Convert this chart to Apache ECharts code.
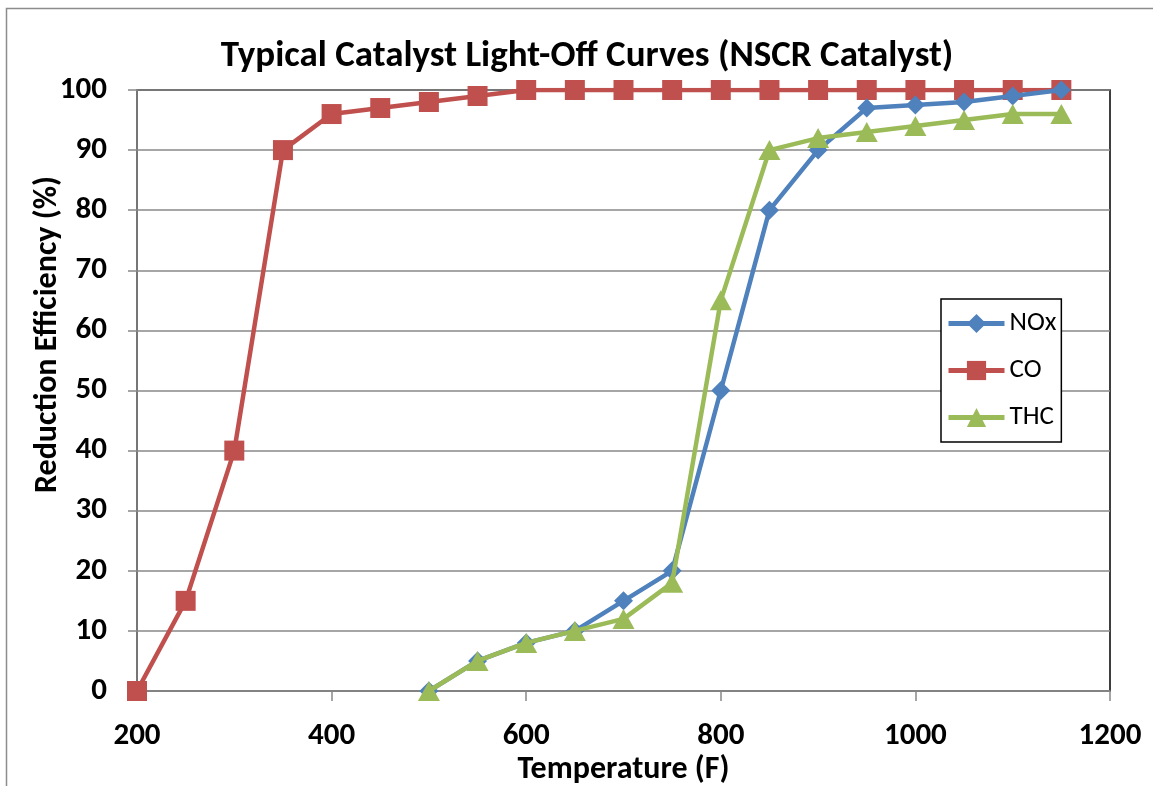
<!DOCTYPE html>
<html><head><meta charset="utf-8">
<script src="https://cdn.jsdelivr.net/npm/echarts@6/dist/echarts.min.js"></script>
<style>html,body{margin:0;padding:0;background:#fff}#c{width:1153px;height:786px}</style>
</head><body><div id="c"></div>
<script>
const temps = [200,250,300,350,400,450,500,550,600,650,700,750,800,850,900,950,1000,1050,1100,1150];
const noxTemps = [500,550,600,650,700,750,800,850,900,950,1000,1050,1100,1150];
const noxVals = [0,5,8,10,15,20,50,80,90,97,97.5,98,99,100];
const coVals = [0,15,40,90,96,97,98,99,100,100,100,100,100,100,100,100,100,100,100,100];
const thcVals = [0,5,8,10,12,18,65,90,92,93,94,95,96,96];
const xTicks = [200,400,600,800,1000,1200];
const FONT = "Carlito, 'Liberation Sans Narrow', 'Open Sans', sans-serif";

const zip = (xs, ys) => xs.map((x,i)=>[x, ys[i]]);
const chart = echarts.init(document.getElementById('c'));
chart.setOption({
  animation:false,
  textStyle:{fontFamily:FONT},
  title:{text:'Typical Catalyst Light-Off Curves (NSCR Catalyst)', left:582, top:33, textAlign:'center',
    textStyle:{fontFamily:FONT, fontSize:37, fontWeight:'bold', color:'#000'}},
  graphic:[{type:'rect', shape:{x:6.5,y:8.5,width:1300,height:900}, style:{fill:null, stroke:'#8c8c8c', lineWidth:1.5}, silent:true}],
  grid:{left:137, right:43, top:90, bottom:95, show:true, borderColor:'#000', borderWidth:1.5,
    containLabel:false, outerBoundsMode:'none'},
  legend:{orient:'vertical', left:941, top:299, padding:[11,5,11,5], itemGap:20,
    borderColor:'#000', borderWidth:1.5, backgroundColor:'#fff',
    itemWidth:56, itemHeight:24,
    lineStyle:{width:5},
    textStyle:{fontFamily:FONT, fontSize:27, lineHeight:24, color:'#000'},
    data:['NOx','CO','THC']},
  xAxis:{type:'value', min:200, max:1200, interval:200,
    name:'Temperature (F)', nameLocation:'middle', nameGap:63, nameMoveOverlap:false,
    nameTextStyle:{fontFamily:FONT, fontSize:32, fontWeight:'bold', color:'#000'},
    axisLine:{lineStyle:{color:'#888', width:1.5}},
    axisTick:{show:true, length:10, lineStyle:{color:'#888', width:1.5}},
    axisLabel:{fontFamily:FONT, fontSize:31, fontWeight:'bold', color:'#000', margin:30, formatter:v=>String(v)},
    splitLine:{show:false}},
  yAxis:{type:'value', min:0, max:100, interval:10,
    name:'Reduction Efficiency (%)', nameLocation:'middle', nameGap:73, nameRotate:90, nameMoveOverlap:false,
    nameTextStyle:{fontFamily:FONT, fontSize:32, fontWeight:'bold', color:'#000', padding:[0,0,0,112]},
    axisLine:{show:true, lineStyle:{color:'#888', width:1.5}},
    axisTick:{show:true, inside:false, length:9, lineStyle:{color:'#888', width:1.5}},
    axisLabel:{fontFamily:FONT, fontSize:31, fontWeight:'bold', color:'#000', margin:30, formatter:v=>String(v)},
    splitLine:{lineStyle:{color:'#888', width:1.5}}},
  series:[
    {name:'NOx', type:'line', data:zip(noxTemps,noxVals), symbol:'diamond', symbolSize:19,
      lineStyle:{color:'#4F81BD', width:4.5}, itemStyle:{color:'#4F81BD'}, z:3},
    {name:'CO', type:'line', data:zip(temps,coVals), symbol:'rect', symbolSize:20,
      lineStyle:{color:'#C0504D', width:4.5}, itemStyle:{color:'#C0504D'}, z:2},
    {name:'THC', type:'line', data:zip(noxTemps,thcVals), symbol:'triangle', symbolSize:[22,20],
      lineStyle:{color:'#9BBB59', width:4.5}, itemStyle:{color:'#9BBB59'}, z:4}
  ]
});
</script></body></html>
